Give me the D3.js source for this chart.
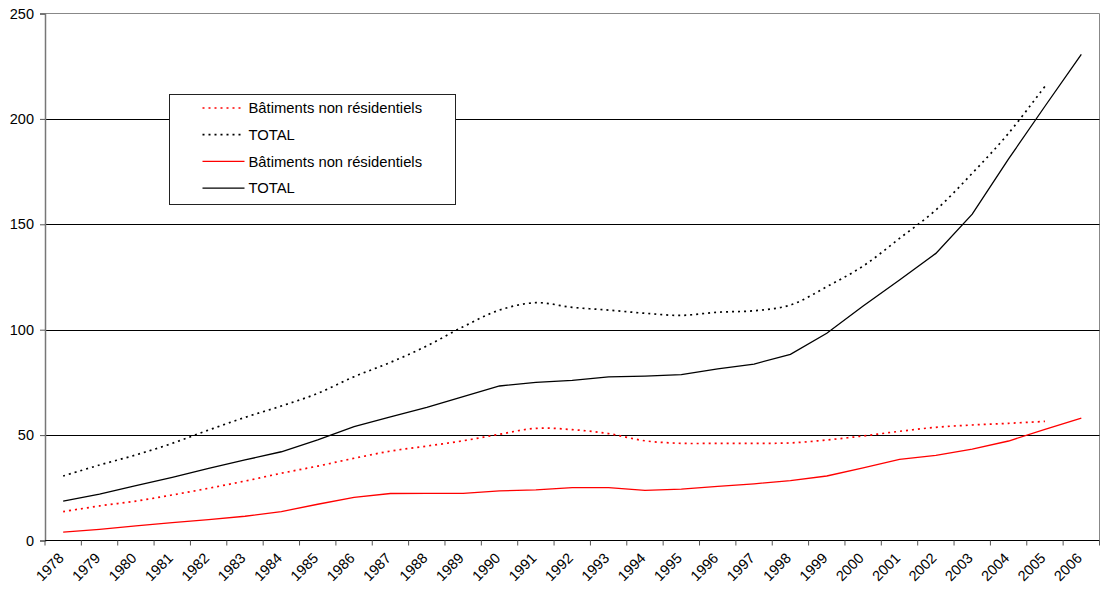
<!DOCTYPE html>
<html>
<head>
<meta charset="utf-8">
<script src="https://cdn.jsdelivr.net/npm/d3@7"></script>
<style>
  body { margin: 0; background: #fff; }
  text { font-family: Arial, "Liberation Sans", sans-serif; fill: #000; }
</style>
</head>
<body>
<svg id="chart"></svg>
<script>
const width = 1100;
const height = 595;

// data
const years = ['1978','1979','1980','1981','1982','1983','1984','1985','1986','1987',
  '1988','1989','1990','1991','1992','1993','1994','1995','1996','1997',
  '1998','1999','2000','2001','2002','2003','2004','2005','2006'];

const nonResDotted = [13.7, 16.4, 18.7, 21.6, 24.8, 28.2, 31.9, 35.3, 39.0, 42.4,
  44.8, 47.3, 50.4, 53.2, 52.6, 50.7, 47.3, 46.1, 46.1, 46.1,
  46.3, 47.7, 49.6, 51.8, 53.7, 54.8, 55.6, 56.5, null];
const totalDotted = [30.6, 35.8, 40.6, 46.1, 52.4, 58.4, 63.8, 69.8, 77.7, 84.5,
  92.3, 101.4, 109.3, 112.8, 110.6, 109.3, 107.8, 106.8, 108.3, 109.0,
  111.7, 120.4, 130.2, 143.3, 156.8, 174.2, 193.2, 215.5, null];
const nonResSolid = [4.0, 5.3, 6.9, 8.5, 9.9, 11.5, 13.7, 17.2, 20.5, 22.3,
  22.4, 22.4, 23.5, 24.0, 25.1, 25.1, 23.8, 24.4, 25.7, 26.9,
  28.4, 30.6, 34.5, 38.5, 40.4, 43.3, 47.2, 52.7, 58.1];
const totalSolid = [18.7, 22.0, 26.0, 30.0, 34.2, 38.2, 42.1, 47.7, 54.0, 58.7,
  63.2, 68.2, 73.3, 75.0, 76.0, 77.6, 78.0, 78.7, 81.4, 83.7,
  88.3, 98.3, 111.2, 123.6, 136.2, 154.8, 181.0, 206.0, 230.6];

const yTicks = [0, 50, 100, 150, 200, 250];

const series = [
  {name: 'Bâtiments non résidentiels', values: nonResDotted, color: '#ff0000', dash: '2,4', curve: d3.curveCatmullRom},
  {name: 'TOTAL', values: totalDotted, color: '#000000', dash: '2,4', curve: d3.curveCatmullRom},
  {name: 'Bâtiments non résidentiels', values: nonResSolid, color: '#ff0000', dash: null, curve: d3.curveLinear},
  {name: 'TOTAL', values: totalSolid, color: '#000000', dash: null, curve: d3.curveLinear}
];

const plotLeft = 45, plotRight = 1099.5, plotTop = 13.5, plotBottom = 540.5;

const svg = d3.select('#chart')
  .attr('width', width)
  .attr('height', height);

const x = d3.scaleBand().domain(years).range([plotLeft, plotRight]);
const y = d3.scaleLinear().domain([0, 250]).range([plotBottom, plotTop]);

// plot border (top and right)
svg.append('path')
  .attr('d', `M${plotLeft},${plotTop}H${plotRight}V${plotBottom}`)
  .attr('fill', 'none')
  .attr('stroke', '#888')
  .attr('stroke-width', 1);

// gridlines
svg.append('g')
  .selectAll('line')
  .data(yTicks.filter(d => d > 0 && d < 250))
  .enter()
  .append('line')
  .attr('x1', plotLeft)
  .attr('x2', plotRight)
  .attr('y1', d => Math.round(y(d)) + 0.5)
  .attr('y2', d => Math.round(y(d)) + 0.5)
  .attr('stroke', '#000')
  .attr('stroke-width', 1);

// y axis
const yAxis = svg.append('g')
  .attr('transform', `translate(${plotLeft}, 0)`)
  .call(d3.axisLeft(y).tickValues(yTicks).tickSize(5).tickPadding(6));
yAxis.select('.domain').attr('stroke', '#777').attr('stroke-width', 1.5);
yAxis.selectAll('.tick line').attr('stroke', '#555');
yAxis.selectAll('text').style('font-size', '14.5px');

// x axis, ticks between categories
const xAxis = svg.append('g')
  .attr('transform', `translate(0, ${plotBottom})`);
xAxis.append('line')
  .attr('x1', plotLeft).attr('x2', plotRight)
  .attr('stroke', '#000').attr('stroke-width', 1.2);
xAxis.selectAll('line.tk')
  .data(years.concat(['end']))
  .enter()
  .append('line')
  .attr('class', 'tk')
  .attr('x1', (d, i) => plotLeft + i * x.step())
  .attr('x2', (d, i) => plotLeft + i * x.step())
  .attr('y1', 0).attr('y2', 5)
  .attr('stroke', '#555');
xAxis.selectAll('text')
  .data(years)
  .enter()
  .append('text')
  .attr('transform', d => `translate(${x(d) + x.bandwidth() / 2 - 2}, 15) rotate(-45)`)
  .attr('text-anchor', 'end')
  .attr('dy', '0.35em')
  .style('font-size', '14.5px')
  .text(d => d);

// lines
series.forEach(s => {
  const line = d3.line()
    .defined(d => d != null)
    .x((d, i) => x(years[i]) + x.bandwidth() / 2)
    .y(d => y(d))
    .curve(s.curve);
  svg.append('path')
    .datum(s.values)
    .attr('d', line)
    .attr('fill', 'none')
    .attr('stroke', s.color)
    .attr('stroke-width', s.dash ? 1.7 : 1.3)
    .attr('stroke-dasharray', s.dash);
});

// legend
const legend = svg.append('g').attr('transform', 'translate(169.5, 94.5)');
legend.append('rect')
  .attr('width', 286)
  .attr('height', 110)
  .attr('fill', '#fff')
  .attr('stroke', '#222')
  .attr('stroke-width', 1);

const rows = legend.selectAll('g.row')
  .data(series)
  .enter()
  .append('g')
  .attr('class', 'row')
  .attr('transform', (d, i) => `translate(0, ${13.5 + i * 26.7})`);
rows.append('line')
  .attr('x1', 33).attr('x2', 75)
  .attr('stroke', d => d.color)
  .attr('stroke-width', d => d.dash ? 1.7 : 1.3)
  .attr('stroke-dasharray', d => d.dash);
rows.append('text')
  .attr('x', 79)
  .attr('dy', '0.35em')
  .style('font-size', '14.8px')
  .text(d => d.name);
</script>
</body>
</html>
